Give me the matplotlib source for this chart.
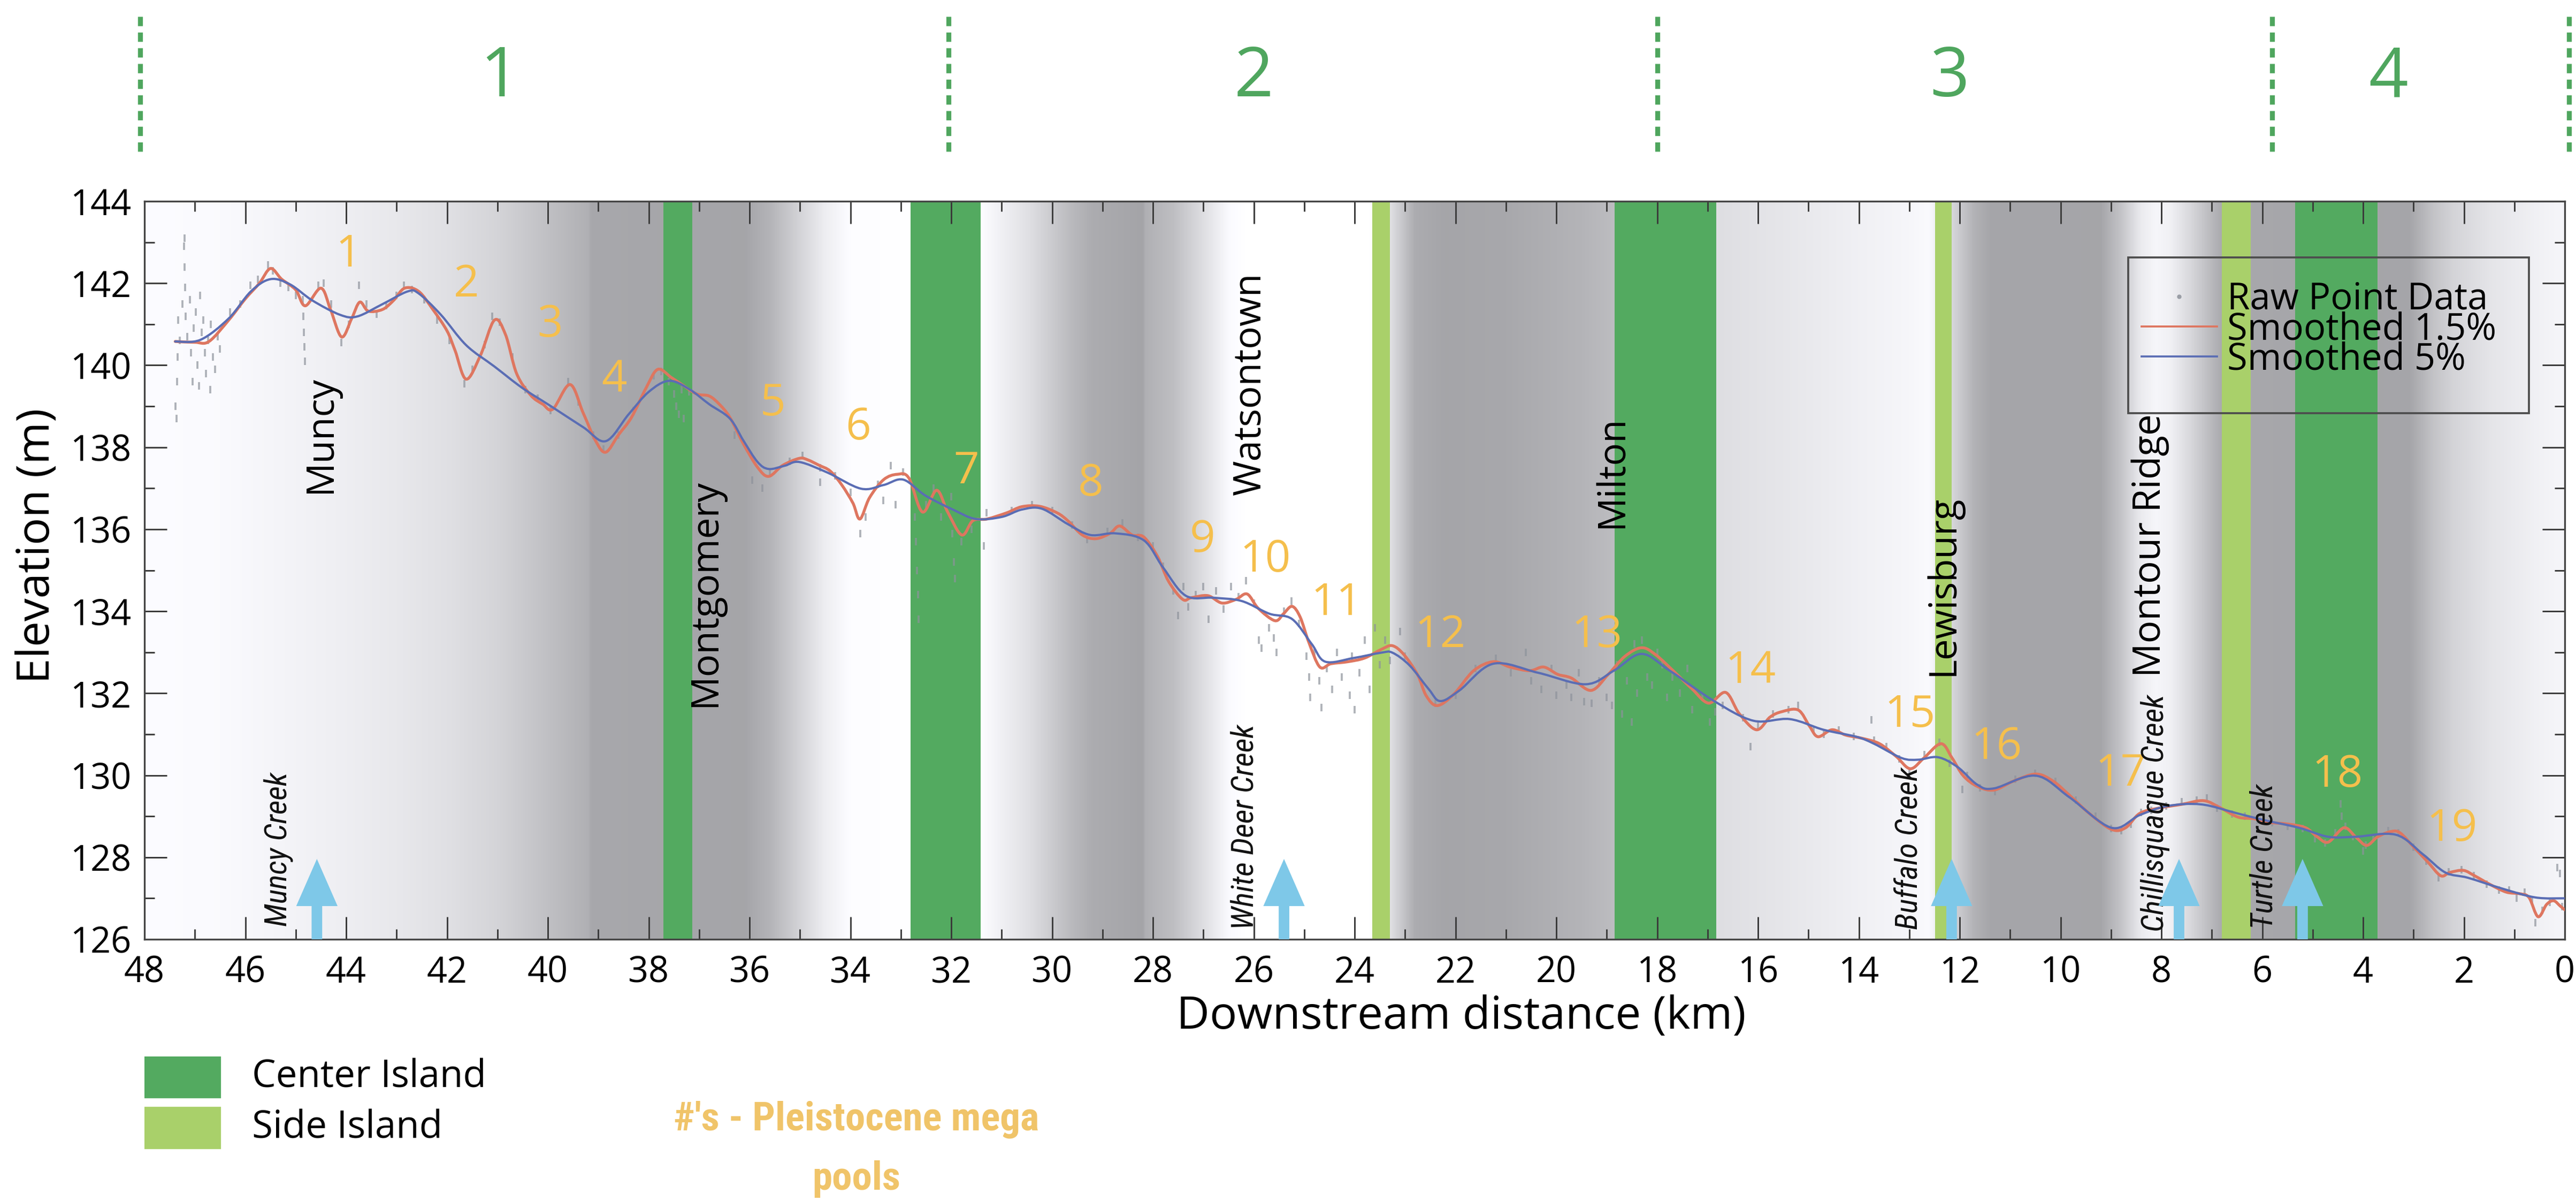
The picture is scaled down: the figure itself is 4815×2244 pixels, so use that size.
import numpy as np
import matplotlib
matplotlib.use("Agg")
import matplotlib.pyplot as plt
from matplotlib.patches import Rectangle, FancyArrow, PathPatch
from matplotlib.path import Path
from matplotlib.lines import Line2D
from matplotlib.ticker import MultipleLocator
from matplotlib import font_manager as fm

# ---------------------------------------------------------------- fonts
_names = {f.name for f in fm.fontManager.ttflist}


def pick(*cands):
    for c in cands:
        if c in _names:
            return c
    return "DejaVu Sans"


SANS = pick("Open Sans", "Lato", "Noto Sans", "DejaVu Sans")
NARROW = pick("Liberation Sans Narrow", "Roboto Condensed", SANS)
plt.rcParams["font.family"] = [SANS, "DejaVu Sans"]

# ---------------------------------------------------------------- data
# Smoothed profile, 1.5 % window (distance km, elevation m)
red_km = [47.39, 47.00, 46.72, 46.33, 46.00, 45.72, 45.50, 45.28, 45.00, 44.81,
          44.50, 44.31, 44.09, 43.89, 43.73, 43.56, 43.28, 43.06, 42.84, 42.56,
          42.28, 42.00, 41.84, 41.62, 41.34, 41.06, 40.84, 40.62, 40.34, 40.10,
          39.90, 39.56, 39.30, 39.05, 38.85, 38.60, 38.34, 38.05, 37.82, 37.55,
          37.33, 37.05, 36.80, 36.60, 36.39, 36.12, 35.84, 35.62, 35.34, 35.01,
          34.84, 34.62, 34.40, 34.17, 33.95, 33.81, 33.62, 33.34, 33.07, 32.84,
          32.57, 32.29, 32.07, 31.79, 31.57, 31.29, 30.90, 30.60, 30.25, 29.90,
          29.68, 29.40, 29.13, 28.85, 28.66, 28.41, 28.18, 27.91, 27.69, 27.41,
          27.24, 26.91, 26.63, 26.35, 26.13, 25.91, 25.58, 25.41, 25.24, 25.08,
          24.91, 24.69, 24.47, 24.13, 23.80, 23.47, 23.25, 23.02, 22.75, 22.58,
          22.36, 22.03, 21.64, 21.25, 20.92, 20.53, 20.25, 19.97, 19.70, 19.31,
          18.97, 18.64, 18.31, 18.03, 17.64, 17.31, 16.98, 16.64, 16.37, 16.03,
          15.76, 15.53, 15.20, 14.98, 14.81, 14.53, 14.26, 13.93, 13.59, 13.26,
          12.98, 12.71, 12.37, 12.15, 11.93, 11.65, 11.32, 10.93, 10.49, 10.15,
          9.82, 9.43, 8.99, 8.71, 8.43, 8.05, 7.60, 7.16, 6.82, 6.48,
          6.16, 5.85, 5.49, 5.14, 4.91, 4.69, 4.38, 4.15, 3.93, 3.71,
          3.44, 3.26, 2.99, 2.72, 2.46, 2.28, 2.01, 1.79, 1.47, 1.16,
          0.89, 0.71, 0.53, 0.36, 0.22, 0.09, 0.00]
red_el = [140.58, 140.56, 140.58, 141.10, 141.62, 142.00, 142.36, 142.10, 141.84, 141.45,
          141.88, 141.36, 140.69, 141.14, 141.54, 141.32, 141.36, 141.58, 141.88, 141.80,
          141.36, 140.84, 140.36, 139.66, 140.23, 141.10, 140.75, 139.80, 139.27, 139.05,
          138.93, 139.53, 138.84, 138.15, 137.88, 138.30, 138.73, 139.45, 139.90, 139.70,
          139.52, 139.30, 139.25, 139.05, 138.73, 138.08, 137.51, 137.29, 137.56, 137.73,
          137.69, 137.56, 137.42, 137.08, 136.64, 136.25, 136.77, 137.21, 137.34, 137.25,
          136.42, 136.95, 136.42, 135.86, 136.21, 136.25, 136.40, 136.55, 136.56, 136.40,
          136.20, 135.86, 135.77, 135.90, 136.08, 135.86, 135.81, 135.34, 134.73, 134.29,
          134.33, 134.38, 134.20, 134.29, 134.42, 134.07, 133.77, 133.94, 134.12, 133.86,
          133.25, 132.64, 132.72, 132.77, 132.86, 133.07, 133.16, 132.94, 132.45, 131.94,
          131.70, 131.98, 132.55, 132.77, 132.64, 132.55, 132.64, 132.46, 132.37, 132.07,
          132.46, 132.90, 133.11, 132.94, 132.50, 132.11, 131.76, 132.02, 131.50, 131.11,
          131.42, 131.55, 131.59, 131.20, 130.94, 131.11, 130.98, 130.90, 130.77, 130.46,
          130.16, 130.42, 130.77, 130.42, 129.99, 129.73, 129.64, 129.86, 130.03, 129.86,
          129.51, 129.07, 128.68, 128.72, 129.07, 129.20, 129.29, 129.38, 129.20, 128.98,
          128.94, 128.85, 128.81, 128.72, 128.50, 128.37, 128.72, 128.50, 128.29, 128.50,
          128.63, 128.59, 128.24, 127.89, 127.55, 127.63, 127.68, 127.55, 127.33, 127.15,
          127.11, 127.02, 126.55, 126.85, 126.94, 126.81, 126.72]

# Smoothed profile, 5 % window
blue_km = [47.39, 46.89, 46.33, 45.89, 45.50, 45.11, 44.67, 44.12, 43.78, 43.28,
           42.78, 42.56, 42.12, 41.62, 41.06, 40.51, 39.95, 39.30, 38.85, 38.40,
           38.00, 37.60, 37.20, 36.80, 36.39, 36.12, 35.84, 35.62, 35.30, 35.01,
           34.45, 33.79, 33.34, 32.95, 32.51, 31.95, 31.51, 31.00, 30.60, 30.20,
           29.68, 29.24, 28.74, 28.18, 27.80, 27.35, 26.80, 26.24, 25.69, 25.24,
           24.85, 24.58, 24.02, 23.47, 23.25, 22.91, 22.53, 22.30, 21.92, 21.25,
           20.36, 19.42, 18.86, 18.31, 17.75, 16.87, 16.09, 15.37, 14.70, 14.05,
           13.70, 13.15, 12.82, 12.43, 12.04, 11.65, 11.32, 10.49, 9.82, 8.99,
           8.43, 7.88, 7.21, 6.49, 5.94, 5.27, 4.69, 4.15, 3.35, 2.81,
           2.37, 1.92, 1.25, 0.58, 0.00]
blue_el = [140.58, 140.62, 141.14, 141.80, 142.10, 141.97, 141.58, 141.23, 141.19, 141.49,
           141.80, 141.75, 141.23, 140.49, 139.97, 139.45, 139.01, 138.49, 138.15, 138.80,
           139.35, 139.62, 139.42, 139.05, 138.70, 138.16, 137.64, 137.47, 137.55, 137.64,
           137.38, 136.99, 137.08, 137.21, 136.82, 136.47, 136.25, 136.30, 136.48, 136.50,
           136.12, 135.86, 135.90, 135.73, 135.07, 134.38, 134.33, 134.25, 133.94, 133.81,
           133.20, 132.77, 132.86, 132.99, 132.99, 132.68, 132.10, 131.81, 132.07, 132.72,
           132.50, 132.22, 132.55, 132.96, 132.55, 131.81, 131.33, 131.37, 131.11, 130.94,
           130.77, 130.42, 130.38, 130.44, 130.20, 129.77, 129.68, 129.99, 129.46, 128.72,
           129.03, 129.25, 129.29, 129.07, 128.90, 128.72, 128.50, 128.50, 128.55, 128.07,
           127.63, 127.50, 127.24, 127.02, 127.00]

# Raw survey points
raw_km = [47.38, 47.36, 47.35, 47.34, 47.33, 47.30, 47.25, 47.22, 47.20, 47.20,
          47.19, 47.18, 47.15, 47.10, 47.08, 47.05, 47.02, 46.98, 46.95, 46.92,
          46.90, 46.86, 46.83, 46.80, 46.78, 46.74, 46.70, 46.68, 46.64, 46.60,
          46.55, 46.50, 46.30, 46.10, 45.90, 45.75, 45.55, 45.45, 45.30, 45.15,
          45.00, 44.86, 44.85, 44.84, 44.83, 44.82, 44.55, 44.45, 44.30, 44.10,
          43.95, 43.75, 43.60, 43.40, 43.20, 43.00, 42.85, 42.70, 42.45, 42.20,
          41.95, 41.65, 41.50, 41.25, 41.10, 40.95, 40.70, 40.45, 40.20, 39.95,
          39.60, 39.40, 39.10, 38.90, 38.60, 38.30, 37.90, 37.75, 37.60, 37.50,
          37.45, 37.40, 37.35, 37.30, 37.20, 36.30, 35.95, 35.75, 35.60, 35.20,
          34.95, 34.60, 34.60, 34.30, 34.00, 33.80, 33.70, 33.45, 33.35, 33.20,
          33.10, 32.95, 32.72, 32.70, 32.68, 32.66, 32.65, 32.50, 32.35, 32.20,
          32.00, 31.98, 31.95, 31.93, 31.80, 31.60, 31.35, 31.30, 30.80, 30.40,
          30.00, 29.60, 29.30, 28.90, 28.60, 28.30, 28.00, 27.80, 27.60, 27.50,
          27.40, 27.30, 27.15, 27.00, 26.90, 26.75, 26.60, 26.45, 26.30, 26.15,
          26.00, 25.90, 25.85, 25.70, 25.60, 25.55, 25.40, 25.25, 25.10, 24.95,
          24.90, 24.88, 24.80, 24.70, 24.66, 24.55, 24.45, 24.35, 24.25, 24.10,
          24.05, 24.00, 23.90, 23.80, 23.70, 23.60, 23.50, 23.40, 23.30, 23.10,
          23.00, 22.40, 22.00, 21.60, 21.20, 20.90, 20.60, 20.50, 20.30, 20.10,
          20.00, 19.80, 19.70, 19.55, 19.45, 19.30, 19.15, 19.00, 18.90, 18.80,
          18.70, 18.60, 18.50, 18.45, 18.40, 18.30, 18.20, 18.10, 18.00, 17.90,
          17.80, 17.70, 17.55, 17.40, 17.30, 17.10, 16.95, 16.85, 16.70, 16.30,
          16.15, 16.00, 15.70, 15.40, 15.20, 14.90, 14.70, 14.40, 14.10, 13.75,
          13.70, 13.45, 13.20, 13.00, 12.70, 12.40, 12.20, 11.95, 11.85, 11.60,
          11.30, 10.90, 10.50, 10.10, 9.70, 9.30, 9.00, 8.80, 8.60, 8.40,
          8.20, 7.90, 7.60, 7.30, 7.10, 6.90, 6.60, 6.35, 6.10, 5.80,
          5.50, 5.20, 4.95, 4.75, 4.55, 4.45, 4.42, 4.35, 4.20, 4.00,
          3.95, 3.80, 3.50, 3.30, 3.00, 2.75, 2.50, 2.30, 2.05, 1.80,
          1.55, 1.30, 1.10, 0.95, 0.80, 0.65, 0.58, 0.45, 0.30, 0.15,
          0.10, 0.05]
raw_el = [139.0, 138.7, 139.6, 140.2, 141.1, 140.6, 141.5, 142.9, 143.1, 142.4,
          141.9, 141.2, 140.7, 141.6, 140.3, 139.6, 140.9, 141.3, 140.0, 139.5,
          141.7, 140.8, 141.1, 140.3, 139.8, 140.6, 139.4, 141.0, 140.2, 139.9,
          140.7, 140.4, 141.3, 141.5, 141.95, 142.1, 142.45, 142.3, 142.0, 141.9,
          141.7, 141.6, 141.2, 140.8, 140.45, 140.1, 141.95, 142.0, 141.5, 140.55,
          141.0, 141.95, 141.5, 141.25, 141.45, 141.7, 141.95, 141.85, 141.6, 141.1,
          140.6, 139.55, 139.9, 140.5, 141.2, 141.05, 140.2, 139.4, 139.2, 138.9,
          139.6, 139.1, 138.3, 137.95, 138.3, 138.9, 139.75, 139.85, 139.6, 139.3,
          139.0, 138.8, 139.4, 138.7, 139.35, 138.3, 137.2, 137.0, 137.35, 137.65,
          137.8, 137.5, 137.15, 137.3, 136.9, 135.9, 136.3, 137.1, 136.7, 137.55,
          136.6, 137.4, 136.3, 135.7, 135.0, 134.4, 133.8, 136.6, 137.0, 136.3,
          136.8, 135.9, 135.2, 134.8, 135.7, 136.0, 135.6, 136.4, 136.45, 136.6,
          136.45, 136.1, 135.75, 135.95, 136.15, 135.8, 135.6, 135.1, 134.5, 133.9,
          134.6, 134.1, 134.4, 134.6, 133.8, 134.5, 134.05, 134.6, 134.35, 134.75,
          134.2, 133.3, 133.1, 133.6, 133.35, 133.0, 134.0, 134.25, 133.7, 132.9,
          132.4, 131.9, 133.0, 132.3, 131.65, 132.6, 132.1, 133.0, 132.4, 131.95,
          132.9, 131.6, 132.5, 133.3, 132.1, 133.6, 132.7, 133.3, 132.8, 133.5,
          132.9, 131.75, 131.95, 132.6, 132.85, 132.5, 133.0, 132.3, 132.1, 132.6,
          131.95, 132.2, 131.9, 132.5, 131.8, 131.75, 132.3, 131.9, 131.7, 132.7,
          131.5, 132.3, 131.3, 133.2, 132.0, 133.3, 132.4, 132.2, 133.0, 132.7,
          131.9, 132.4, 132.0, 132.6, 131.6, 131.9, 131.3, 131.55, 131.7, 131.4,
          130.7, 131.2, 131.5, 131.6, 131.7, 131.1, 131.0, 131.1, 130.95, 131.35,
          130.85, 130.7, 130.4, 130.1, 130.5, 130.8, 130.3, 129.65, 130.0, 129.7,
          129.6, 129.9, 130.05, 129.85, 129.4, 129.0, 128.7, 128.65, 128.8, 129.1,
          129.15, 129.25, 129.35, 129.4, 129.45, 129.2, 129.05, 129.0, 128.9, 128.85,
          128.75, 128.7, 128.45, 128.35, 128.6, 129.3, 129.0, 128.75, 128.5, 128.15,
          128.3, 128.45, 128.65, 128.6, 128.25, 127.9, 127.5, 127.65, 127.7, 127.55,
          127.35, 127.2, 127.2, 127.0, 127.15, 126.95, 126.4, 126.7, 126.9, 127.75,
          127.6, 126.8]

# Islands (start km, end km)
center_islands = [(37.71, 37.14), (32.81, 31.42), (18.84, 16.83), (5.35, 3.71)]
side_islands = [(23.65, 23.30), (12.49, 12.16), (6.80, 6.23)]

# Reach boundaries and names
reach_bounds = [48.08, 32.05, 18.0, 5.8, -0.08]
reach_names = ["1", "2", "3", "4"]
reach_label_km = [40.95, 26.0, 12.2, 3.5]

# Pleistocene mega pools
pool_ids = [str(i) for i in range(1, 20)]
pool_km = [43.95, 41.62, 39.96, 38.68, 35.54, 33.85, 31.70, 29.23, 27.02, 25.77,
           24.36, 22.30, 19.19, 16.15, 12.99, 11.27, 8.80, 4.51, 2.24]
pool_el = [142.68, 141.95, 140.97, 139.62, 139.05, 138.47, 137.40, 137.10, 135.73, 135.24,
           134.19, 133.40, 133.40, 132.53, 131.46, 130.67, 130.02, 130.00, 128.68]

# Towns
towns = ["Muncy", "Montgomery", "Watsontown", "Milton", "Lewisburg", "Montour Ridge"]
town_km = [44.50, 36.88, 26.07, 18.89, 12.32, 8.22]
town_el = [138.31, 134.45, 139.55, 137.40, 134.63, 135.61]

# Tributaries
creeks = ["Muncy Creek", "White Deer Creek", "Buffalo Creek", "Chillisquaque Creek", "Turtle Creek"]
creek_km = [44.58, 25.40, 12.16, 7.65, 5.20]
creek_label_km = [45.35, 26.18, 13.01, 8.12, 5.96]
creek_label_el = [128.19, 128.74, 128.22, 129.08, 128.02]

# Valley-width shading (km, grey level 0-255)
shade_km = [48.0, 46.5, 45.0, 44.0, 43.0, 42.0, 41.0, 40.0, 39.2, 39.15,
            37.7, 36.1, 35.6, 35.0, 34.5, 34.0, 32.8, 31.4, 30.5, 29.6,
            29.2, 28.2, 28.15, 27.6, 27.0, 26.5, 26.2, 23.7, 23.3, 22.8,
            22.2, 21.0, 19.5, 18.9, 16.85, 15.5, 14.0, 13.0, 12.6, 12.15,
            11.7, 11.4, 9.2, 8.8, 8.4, 8.1, 7.8, 7.4, 7.0, 6.8,
            6.2, 5.35, 3.7, 3.05, 2.6, 2.2, 1.5, 0.6, 0.0]
shade_lvl = [252, 250, 243, 238, 232, 224, 212, 192, 176, 168,
             166, 165, 180, 212, 238, 253, 255, 252, 225, 185,
             172, 164, 176, 190, 222, 250, 255, 255, 225, 172,
             165, 168, 180, 188, 222, 230, 240, 246, 250, 215,
             178, 166, 165, 195, 235, 246, 240, 215, 185, 170,
             168, 166, 165, 166, 195, 212, 228, 240, 246]

# ---------------------------------------------------------------- colours
C_CENTER = "#53aa60"
C_SIDE = "#a9d06a"
C_RED = "#de7660"
C_BLUE = "#5a6db4"
C_RAW = "#8d929b"
C_POOL = "#f5bf4c"
C_REACH = "#4fa65e"
C_ARROW = "#7ec8e8"


def smooth_path(xs, ys):
    """Cubic Bezier path passing through every (x, y) vertex."""
    p = np.column_stack([xs, ys]).astype(float)
    ext = np.vstack([p[0], p, p[-1]])
    verts = [tuple(p[0])]
    codes = [Path.MOVETO]
    for i in range(1, len(ext) - 2):
        p0, p1, p2, p3 = ext[i - 1], ext[i], ext[i + 1], ext[i + 2]
        c1 = p1 + (p2 - p0) / 6.0
        c2 = p2 - (p3 - p1) / 6.0
        verts += [tuple(c1), tuple(c2), tuple(p2)]
        codes += [Path.CURVE4] * 3
    return Path(verts, codes)


# ---------------------------------------------------------------- figure
W, H, DPI = 4815, 2244, 300
fig = plt.figure(figsize=(W / DPI, H / DPI), dpi=DPI)
fig.patch.set_facecolor("white")

ax_l, ax_r, ax_t, ax_b = 270, 4794, 376, 1755
ax = fig.add_axes([ax_l / W, 1 - ax_b / H, (ax_r - ax_l) / W, (ax_b - ax_t) / H])

# valley shading
grid = np.linspace(0, 48, 2400)
lvl = np.interp(grid, shade_km[::-1], shade_lvl[::-1]) / 255.0
rgb = np.stack([lvl, lvl, np.minimum(lvl + 0.015, 1.0)], axis=-1)[None, :, :]
ax.imshow(rgb, extent=[0, 48, 126, 144], aspect="auto", interpolation="bilinear", zorder=0)

for a, b in center_islands:
    ax.axvspan(a, b, color=C_CENTER, lw=0, zorder=1)
for a, b in side_islands:
    ax.axvspan(a, b, color=C_SIDE, lw=0, zorder=1)

# profiles
ax.plot(raw_km, raw_el, ls="none", marker="|", ms=3.5, mew=0.9, color=C_RAW, alpha=0.7, zorder=3)
ax.add_patch(PathPatch(smooth_path(red_km, red_el), fill=False, ec=C_RED, lw=1.3,
                       joinstyle="round", capstyle="round", zorder=4))
ax.add_patch(PathPatch(smooth_path(blue_km, blue_el), fill=False, ec=C_BLUE, lw=1.0,
                       joinstyle="round", capstyle="round", zorder=5))

# pool numbers
for t, x, y in zip(pool_ids, pool_km, pool_el):
    ax.text(x, y, t, color=C_POOL, fontsize=20, ha="center", va="center", zorder=6)

# towns
for t, x, y in zip(towns, town_km, town_el):
    ax.text(x, y, t, rotation=90, fontsize=17, ha="center", va="center", color="black", zorder=6)

# tributaries
for x in creek_km:
    ax.add_patch(FancyArrow(x, 126.0, 0, 1.96, width=0.21, head_width=0.82, head_length=1.15,
                            length_includes_head=True, color=C_ARROW, lw=0, zorder=7))
for t, x, y in zip(creeks, creek_label_km, creek_label_el):
    ax.text(x, y, t, rotation=90, fontsize=14, style="italic", family=[NARROW, "DejaVu Sans"],
            ha="center", va="center", color="#111111", zorder=6)

# axes formatting
ax.set_xlim(48, 0)
ax.set_ylim(126, 144)
ax.xaxis.set_major_locator(MultipleLocator(2))
ax.xaxis.set_minor_locator(MultipleLocator(1))
ax.yaxis.set_major_locator(MultipleLocator(2))
ax.yaxis.set_minor_locator(MultipleLocator(1))
ax.tick_params(which="both", direction="in", top=True, right=True, color="#3a3a3a", width=0.7,
               labelsize=16)
ax.tick_params(which="major", length=10)
ax.tick_params(which="minor", length=4.5)
ax.tick_params(axis="x", pad=7)
ax.tick_params(axis="y", pad=6)
for s in ax.spines.values():
    s.set_color("#444444")
    s.set_linewidth(0.8)

ax.set_xlabel("Downstream distance (km)", fontsize=20.5)
ax.xaxis.set_label_coords(0.544, -0.075)
ax.set_ylabel("Elevation (m)", fontsize=20.5)
ax.yaxis.set_label_coords(-0.035, 0.533)

# legend
handles = [Line2D([], [], ls="none", marker=".", ms=2, color="#9a9ea6"),
           Line2D([], [], color=C_RED, lw=0.9),
           Line2D([], [], color=C_BLUE, lw=0.9)]
leg = ax.legend(handles, ["Raw Point Data", "Smoothed 1.5%", "Smoothed 5%"],
                loc="upper left", bbox_to_anchor=(0.8251, 0.892), frameon=False,
                borderpad=0, borderaxespad=0, handlelength=2.05, handletextpad=0.28,
                labelspacing=-0.2, prop={"family": SANS, "size": 16.5})
leg.set_zorder(8)
ax.add_patch(Rectangle((0.8196, 0.7128), 0.1656, 0.2111, transform=ax.transAxes,
                       fill=False, ec="#4d4d4d", lw=0.9, zorder=8))

# reach strip
top_b, top_t = 290, 20
ax_top = fig.add_axes([ax_l / W, 1 - top_b / H, (ax_r - ax_l) / W, (top_b - top_t) / H])
ax_top.set_xlim(48, 0)
ax_top.set_ylim(0, 1)
ax_top.axis("off")
for x in reach_bounds:
    ax_top.plot([x, x], [0.026, 0.981], color=C_REACH, lw=2.2, ls=(0, (1.9, 1.3)),
                clip_on=False)
for t, x in zip(reach_names, reach_label_km):
    ax_top.text(x, 0.53, t, color=C_REACH, fontsize=31, ha="center", va="center")

# key below the plot
fig.add_artist(Rectangle((270 / W, 1 - 2052 / H), 143 / W, 78 / H, transform=fig.transFigure,
                         color=C_CENTER, lw=0))
fig.add_artist(Rectangle((270 / W, 1 - 2147 / H), 143 / W, 79 / H, transform=fig.transFigure,
                         color=C_SIDE, lw=0))
fig.text(471 / W, 1 - 2013 / H, "Center Island", fontsize=17, va="center", ha="left")
fig.text(471 / W, 1 - 2108 / H, "Side Island", fontsize=17, va="center", ha="left")
fig.text(1601 / W, 1 - 2147 / H, "#'s - Pleistocene mega\npools", fontsize=18,
         family=[NARROW, "DejaVu Sans"], weight="bold", color="#f0c469",
         ha="center", va="center", linespacing=1.75)

fig.savefig("out.png", dpi=DPI, facecolor="white")
